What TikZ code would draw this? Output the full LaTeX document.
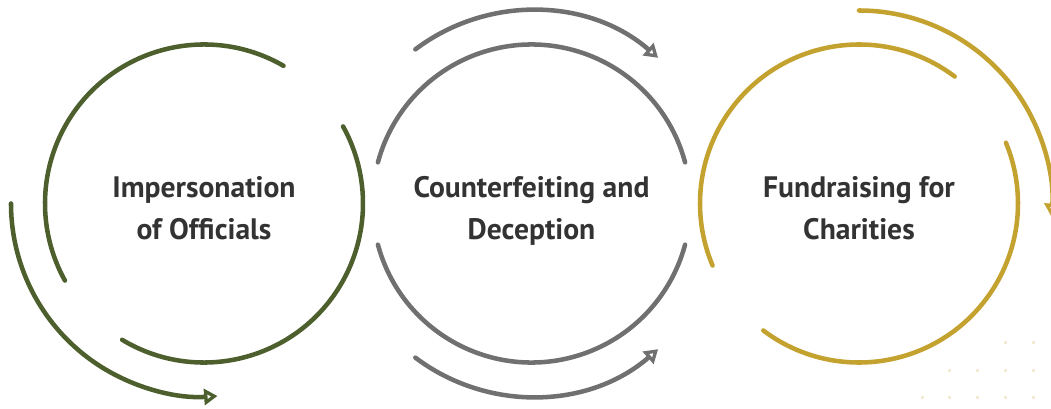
\documentclass[tikz,border=0pt]{standalone}
\usepackage{fontspec}
\setsansfont{PT Sans}
\usetikzlibrary{arrows.meta}
\definecolor{ringone}{HTML}{4E5F2E}
\definecolor{ringtwo}{HTML}{707070}
\definecolor{ringthree}{HTML}{C4A22F}
\definecolor{labeltext}{HTML}{333333}
\definecolor{dotfill}{HTML}{F3EBD6}
\tikzset{
  ring/.style={line width=3.4pt, line cap=round},
  turn/.style={line width=3.4pt, line cap=round, -{Triangle[open, length=10pt, width=12pt]}},
  rlabel/.style={font=\sffamily\bfseries\fontsize{22.2}{31}\selectfont, text=labeltext, align=center, anchor=base},
  griddot/.style={fill=dotfill, draw=none},
}

\begin{document}
\begin{tikzpicture}[x=0.75pt, y=0.75pt]
  \useasboundingbox (0,0) rectangle (1051,408);
  \def\r{159}
  \def\R{193}
  \coordinate (c1) at (204,204.5);
  \coordinate (c2) at (531.5,204.5);
  \coordinate (c3) at (859,204.5);

  % Dot grid, bottom right
  \foreach \px/\py in {1005/66, 1033/66, 949/38, 977/38, 1005/38, 1033/38,
                       922/11, 949/11, 977/11, 1005/11, 1033/11} {
    \fill[griddot] ({\px-1.5},{\py-1.5}) rectangle ++(3,3);
  }

  % Ring 1
  \draw[ring, ringone] (c1) ++(60:\r) arc[start angle=60, end angle=209, radius=\r];
  \draw[ring, ringone] (c1) ++(239:\r) arc[start angle=239, end angle=389, radius=\r];
  \draw[turn, ringone] (c1) ++(180:\R) arc[start angle=180, end angle=274, radius=\R];
  \node[rlabel] (impersonation) at (204,169) {Impersonation\\of Officials};

  % Ring 2
  \draw[ring, ringtwo] (c2) ++(15:\r) arc[start angle=15, end angle=165, radius=\r];
  \draw[ring, ringtwo] (c2) ++(195:\r) arc[start angle=195, end angle=345, radius=\r];
  \draw[turn, ringtwo] (c2) ++(127:\R) arc[start angle=127, end angle=49, radius=\R];
  \draw[turn, ringtwo] (c2) ++(233:\R) arc[start angle=233, end angle=311, radius=\R];
  \node[rlabel] (counterfeiting) at (531.5,169) {Counterfeiting and\\Deception};

  % Ring 3
  \draw[ring, ringthree] (c3) ++(53:\r) arc[start angle=53, end angle=203, radius=\r];
  \draw[ring, ringthree] (c3) ++(233:\r) arc[start angle=233, end angle=382.5, radius=\r];
  \draw[turn, ringthree] (c3) ++(90:\R) arc[start angle=90, end angle=-4, radius=\R];
  \node[rlabel] (fundraising) at (859,169) {Fundraising for\\Charities};
\end{tikzpicture}
\end{document}
